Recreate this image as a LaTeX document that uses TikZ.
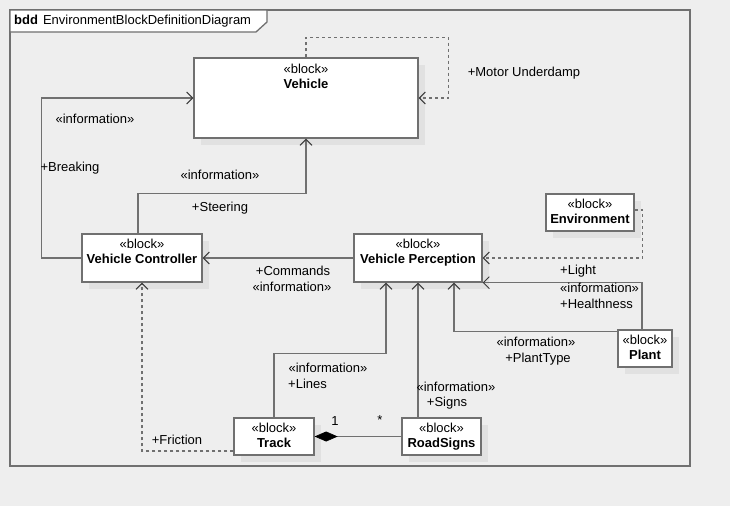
\documentclass[tikz,border=0pt]{standalone}
\usepackage{fontspec}
\setmainfont{Liberation Sans}
\usetikzlibrary{arrows.meta,shadows}
\definecolor{canvas}{HTML}{EEEEEE}
\definecolor{edge}{HTML}{707070}
\definecolor{tip}{HTML}{3A3A3A}
\definecolor{shade}{HTML}{E1E1E1}
\tikzset{
  blockbox/.style={draw=edge, fill=white, line width=1.3pt, rectangle, inner sep=0pt,
    drop shadow={shadow xshift=7pt, shadow yshift=-7pt, fill=shade, opacity=1}},
  blocktext/.style={anchor=north, align=center, inner sep=0pt, font=\fontsize{13}{15}\selectfont},
  lbl/.style={inner sep=0pt, font=\fontsize{13}{15}\selectfont},
  conn/.style={draw=edge, line width=1.3pt},
  info/.style={conn, -{Straight Barb[length=6pt,width=12pt,line width=1pt,color=tip]}},
  infodash/.style={info, dash pattern=on 3pt off 3pt},
  compose/.style={conn, {Diamond[length=23pt,width=10pt,fill=black,line width=0.6pt,color=black]}-},
}
\begin{document}
\begin{tikzpicture}[x=1pt,y=-1pt]
  % canvas
  \fill[canvas] (0,0) rectangle (730,506);
  \useasboundingbox (0,0) rectangle (730,506);

  % diagram frame and its name tab
  \draw[edge, line width=1.3pt] (10,10) rectangle (690,466);
  \draw[edge, line width=1.3pt, fill=white] (10,10) -- (267,10) -- (267,22) -- (256,32) -- (10,32) -- cycle;
  \node[lbl, anchor=west] (title) at (14,21.5) {\textbf{bdd}\hspace{5pt}EnvironmentBlockDefinitionDiagram};

  % blocks
  \node[blockbox, minimum width=224pt, minimum height=80pt] (veh) at (306,98) {};
  \node[blocktext] (vehT) at ([yshift=-7pt]veh.north) {«block»\\\textbf{Vehicle}};

  \node[blockbox, minimum width=120pt, minimum height=48pt] (vc) at (142,258) {};
  \node[blocktext] (vcT) at ([yshift=-6pt]vc.north) {«block»\\\textbf{Vehicle Controller}};

  \node[blockbox, minimum width=128pt, minimum height=48pt] (vp) at (418,258) {};
  \node[blocktext] (vpT) at ([yshift=-6pt]vp.north) {«block»\\\textbf{Vehicle Perception}};

  \node[blockbox, minimum width=88pt, minimum height=37pt] (env) at (590,212.5) {};
  \node[blocktext] (envT) at ([yshift=-6pt]env.north) {«block»\\\textbf{Environment}};

  \node[blockbox, minimum width=54pt, minimum height=37pt] (plant) at (645,348.5) {};
  \node[blocktext] (plantT) at ([yshift=-6pt]plant.north) {«block»\\\textbf{Plant}};

  \node[blockbox, minimum width=80pt, minimum height=37pt] (track) at (274,436.5) {};
  \node[blocktext] (trackT) at ([yshift=-6pt]track.north) {«block»\\\textbf{Track}};

  \node[blockbox, minimum width=79pt, minimum height=37pt] (rs) at (441.5,436.5) {};
  \node[blocktext] (rsT) at ([yshift=-6pt]rs.north) {«block»\\\textbf{RoadSigns}};

  % connectors
  \draw[infodash] (veh.north) -- ++(0,-20) -| ([xshift=30pt]veh.east) -- (veh.east);
  \draw[info] (vc.west) -- ++(-40,0) |- (veh.west);
  \draw[info] ([xshift=-4pt]vc.north) -- ++(0,-40) -| (veh.south);
  \draw[info] (vp.west) -- (vc.east);
  \draw[infodash] ([yshift=2.5pt]env.east) -- ++(8,0) |- (vp.east);
  \draw[info] ([xshift=-3pt]plant.north) |- (vp.south east);
  \draw[info] ([yshift=-2pt]plant.north west) -| ([xshift=36pt]vp.south);
  \draw[info] (track.north) -- ++(0,-64) -| ([xshift=-32pt]vp.south);
  \draw[info] (rs.north -| vp.south) -- (vp.south);
  \draw[compose] (track.east) -- (rs.west);
  \draw[infodash] ([yshift=-14.5pt]track.west) -| (vc.south);

  % connector labels
  \node[lbl] (lMotor) at (524,73) {+Motor Underdamp};
  \node[lbl] (lInfoB) at (95,119) {«information»};
  \node[lbl] (lBrk) at (70,168) {+Breaking};
  \node[lbl] (lInfoS) at (220,175) {«information»};
  \node[lbl] (lSteer) at (220,208) {+Steering};
  \node[lbl] (lCmd) at (293,271) {+Commands};
  \node[lbl] (lInfoC) at (292,287) {«information»};
  \node[lbl, anchor=west] (lLight) at (560,271) {+Light};
  \node[lbl, anchor=west] (lInfoP) at (560,288) {«information»};
  \node[lbl, anchor=west] (lHealth) at (560,304) {+Healthness};
  \node[lbl] (lInfoT) at (536,342) {«information»};
  \node[lbl] (lPType) at (538,359) {+PlantType};
  \node[lbl] (lInfoL) at (328,368) {«information»};
  \node[lbl, anchor=west] (lLines) at (288,384) {+Lines};
  \node[lbl] (lInfoR) at (456,387) {«information»};
  \node[lbl] (lSigns) at (447,403) {+Signs};
  \node[lbl] (lOne) at (335,421) {1};
  \node[lbl] (lMany) at (380,420) {*};
  \node[lbl] (lFric) at (177,440) {+Friction};
\end{tikzpicture}
\end{document}
